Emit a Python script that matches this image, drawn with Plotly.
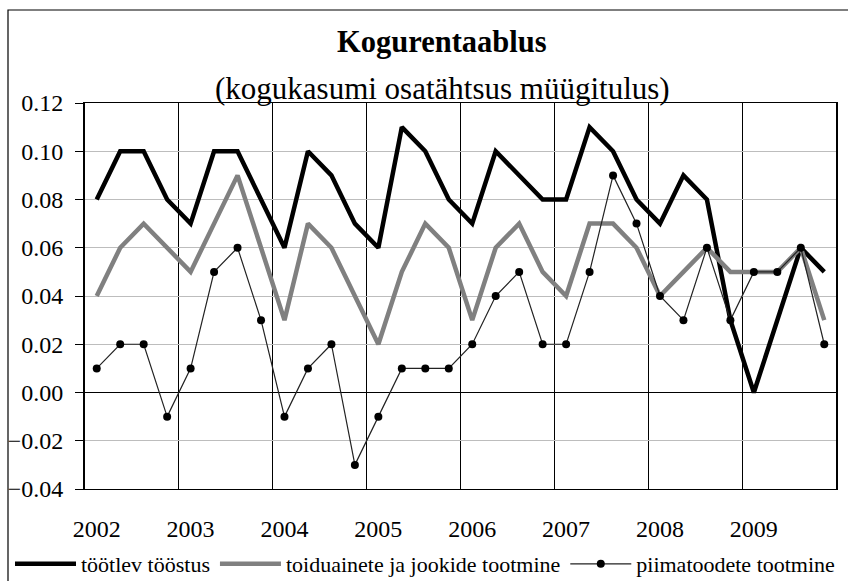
import plotly.graph_objects as go

years = ["2002", "2003", "2004", "2005", "2006", "2007", "2008", "2009"]
quarters = [f"{y} Q{q}" for y in years for q in (1, 2, 3, 4)]

tootlev = [0.08, 0.10, 0.10, 0.08,
           0.07, 0.10, 0.10, 0.08,
           0.06, 0.10, 0.09, 0.07,
           0.06, 0.11, 0.10, 0.08,
           0.07, 0.10, 0.09, 0.08,
           0.08, 0.11, 0.10, 0.08,
           0.07, 0.09, 0.08, 0.03,
           0.00, 0.03, 0.06, 0.05]

toidu = [0.04, 0.06, 0.07, 0.06,
         0.05, 0.07, 0.09, 0.06,
         0.03, 0.07, 0.06, 0.04,
         0.02, 0.05, 0.07, 0.06,
         0.03, 0.06, 0.07, 0.05,
         0.04, 0.07, 0.07, 0.06,
         0.04, 0.05, 0.06, 0.05,
         0.05, 0.05, 0.06, 0.03]

piima = [0.01, 0.02, 0.02, -0.01,
         0.01, 0.05, 0.06, 0.03,
         -0.01, 0.01, 0.02, -0.03,
         -0.01, 0.01, 0.01, 0.01,
         0.02, 0.04, 0.05, 0.02,
         0.02, 0.05, 0.09, 0.07,
         0.04, 0.03, 0.06, 0.03,
         0.05, 0.05, 0.06, 0.02]

x = list(range(len(quarters)))
year_pos = [i for i, q in enumerate(quarters) if q.endswith("Q1")]

W, H = 848, 581
ML, MR, MT, MB = 85, 12, 103, 92
PW, PH = W - ML - MR, H - MT - MB


def px_x(p):
    return (p - ML) / PW


def px_y(p):
    return (H - MB - p) / PH


FONT = "Liberation Serif"

fig = go.Figure()
fig.add_trace(go.Scatter(x=x, y=tootlev, name="töötlev tööstus", mode="lines",
                         line=dict(color="black", width=4.5)))
fig.add_trace(go.Scatter(x=x, y=toidu, name="toiduainete ja jookide tootmine", mode="lines",
                         line=dict(color="#808080", width=4.5)))
fig.add_trace(go.Scatter(x=x, y=piima, name="piimatoodete tootmine", mode="lines+markers",
                         line=dict(color="#222222", width=1.2),
                         marker=dict(color="black", size=8)))

fig.update_layout(
    width=W, height=H,
    margin=dict(l=ML, r=MR, t=MT, b=MB, autoexpand=False),
    paper_bgcolor="white", plot_bgcolor="white",
    font=dict(family=FONT, color="black"),
    showlegend=True,
    legend=dict(orientation="h", x=px_x(10), xanchor="left", y=px_y(543), yanchor="top",
                font=dict(size=22, family=FONT, color="black"), bgcolor="rgba(0,0,0,0)",
                itemwidth=61, tracegroupgap=0),
    annotations=[
        dict(text="<b>Kogurentaablus</b>", x=px_x(442), y=px_y(42), xref="paper", yref="paper",
             showarrow=False, font=dict(size=30.5, family=FONT), xanchor="center", yanchor="middle"),
        dict(text="(kogukasumi osatähtsus müügitulus)", x=px_x(442), y=px_y(88), xref="paper",
             yref="paper", showarrow=False, font=dict(size=31, family=FONT),
             xanchor="center", yanchor="middle"),
    ],
    shapes=[
        dict(type="rect", xref="paper", yref="paper", x0=px_x(8), x1=px_x(870),
             y0=px_y(600), y1=px_y(10), line=dict(color="black", width=1.2),
             fillcolor="rgba(0,0,0,0)", layer="below"),
    ],
)

fig.update_xaxes(
    range=[-0.5, len(x) - 0.5], automargin=False,
    tickmode="array", tickvals=year_pos, ticktext=years,
    ticks="", showgrid=False, zeroline=False,
    tickfont=dict(size=24, family=FONT, color="black"),
    ticklabelstandoff=18,
    showline=True, linecolor="black", linewidth=1, mirror=True,
    minor=dict(tickmode="linear", tick0=3.5, dtick=4, showgrid=True,
               gridcolor="black", gridwidth=1, ticks=""),
)
fig.update_yaxes(
    range=[-0.04, 0.12], dtick=0.02, tick0=0, tickformat=".2f", automargin=False,
    showgrid=True, gridcolor="#bdbdbd", gridwidth=1,
    zeroline=True, zerolinecolor="black", zerolinewidth=1,
    ticks="outside", ticklen=8, tickcolor="black", tickwidth=1,
    tickfont=dict(size=24, family=FONT, color="black"),
    ticklabelstandoff=7,
    showline=True, linecolor="black", linewidth=2, mirror=True,
)

fig.write_html("out.html", config={"displayModeBar": False},
               post_script="document.body.style.margin='0px';")
